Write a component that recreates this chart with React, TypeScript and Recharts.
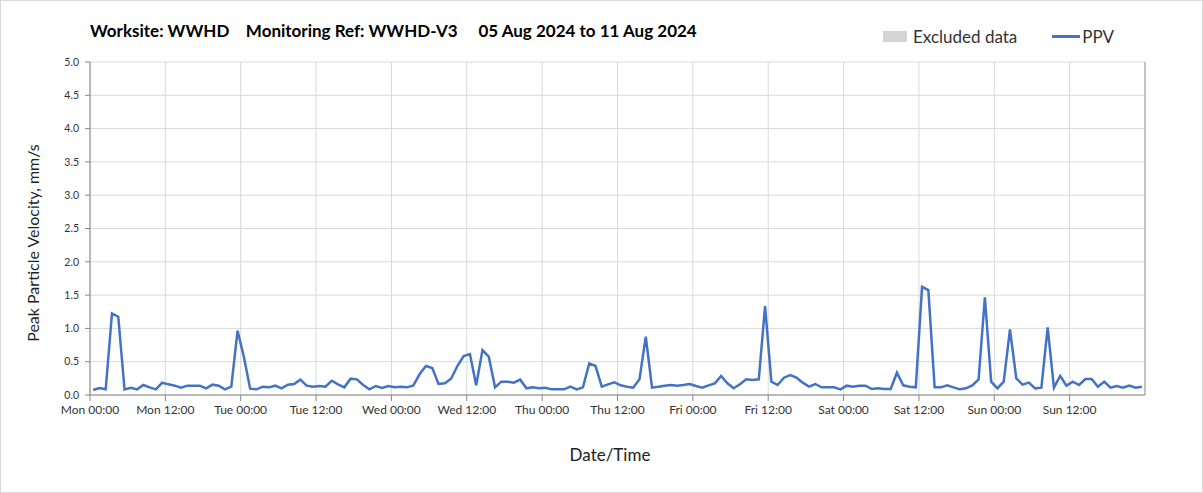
import { CartesianGrid, Line, LineChart, ReferenceLine, XAxis, YAxis } from 'recharts';

// hourly PPV readings, Mon 05 Aug 00:00 -> Sun 11 Aug 23:00
const ppv = [
  0.075, 0.105, 0.085, 1.225, 1.175, 0.085, 0.11, 0.085, 0.15, 0.115,
  0.085, 0.185, 0.16, 0.14, 0.11, 0.14, 0.14, 0.14, 0.1, 0.155,
  0.14, 0.085, 0.125, 0.965, 0.575, 0.095, 0.085, 0.125, 0.115, 0.14,
  0.1, 0.155, 0.165, 0.23, 0.14, 0.125, 0.135, 0.125, 0.215, 0.16,
  0.115, 0.245, 0.235, 0.15, 0.085, 0.135, 0.105, 0.135, 0.115, 0.125,
  0.115, 0.145, 0.315, 0.435, 0.405, 0.165,
  0.175, 0.245, 0.435, 0.585, 0.615, 0.145, 0.675, 0.575, 0.115, 0.2,
  0.2, 0.185, 0.23, 0.1, 0.115, 0.1, 0.11, 0.085, 0.085, 0.085,
  0.125, 0.085, 0.115, 0.475, 0.435, 0.125, 0.16, 0.19, 0.145, 0.125,
  0.11, 0.235, 0.875, 0.11, 0.125, 0.14, 0.15, 0.14, 0.15, 0.165,
  0.135, 0.11, 0.145, 0.175, 0.285, 0.175, 0.1, 0.16, 0.235, 0.225,
  0.235, 1.335, 0.2, 0.15, 0.26,
  0.3, 0.26, 0.185, 0.125, 0.165, 0.115, 0.115, 0.115, 0.085, 0.14,
  0.125, 0.14, 0.14, 0.09, 0.1, 0.09, 0.09, 0.335, 0.145, 0.125,
  0.115, 1.625, 1.575, 0.115, 0.115, 0.145, 0.115, 0.085, 0.1, 0.145,
  0.235, 1.465, 0.2, 0.1, 0.2, 0.985, 0.25, 0.155, 0.185, 0.1,
  0.11, 1.015, 0.11, 0.285, 0.14, 0.2, 0.15, 0.24, 0.24, 0.125,
  0.2, 0.11, 0.135, 0.11, 0.14, 0.11, 0.125,
];

const xTicks = [0, 12, 24, 36, 48, 60, 72, 84, 96, 108, 120, 132, 144, 156];
const xTickLabels = [
  'Mon 00:00', 'Mon 12:00', 'Tue 00:00', 'Tue 12:00', 'Wed 00:00', 'Wed 12:00', 'Thu 00:00',
  'Thu 12:00', 'Fri 00:00', 'Fri 12:00', 'Sat 00:00', 'Sat 12:00', 'Sun 00:00', 'Sun 12:00',
];
const yTicks = [0, 0.5, 1, 1.5, 2, 2.5, 3, 3.5, 4, 4.5, 5];

const data = ppv.map((v, i) => ({ t: i + 0.5, ppv: v }));

const font = 'Lato, "Noto Sans", sans-serif';

export default function App() {
  return (
    <div
      style={{
        position: 'absolute',
        left: 0,
        top: 0,
        width: 1203,
        height: 493,
        border: '1px solid #d9d9d9',
        boxSizing: 'border-box',
        background: '#fff',
        fontFamily: font,
        color: '#000',
      }}
    >
      <div style={{ position: 'absolute', left: 89, top: 19, fontSize: 17, fontWeight: 700, whiteSpace: 'pre' }}>
        {'Worksite: WWHD    Monitoring Ref: WWHD-V3     05 Aug 2024 to 11 Aug 2024'}
      </div>
      <div style={{ position: 'absolute', left: 882, top: 25, display: 'flex', alignItems: 'center', fontSize: 17, color: '#333' }}>
        <span style={{ display: 'inline-block', width: 24, height: 11, background: '#d4d4d4', marginRight: 6 }} />
        <span>Excluded data</span>
        <span style={{ display: 'inline-block', width: 28, height: 3, background: '#4472c4', marginLeft: 35, marginRight: 2 }} />
        <span>PPV</span>
      </div>
      <div
        style={{
          position: 'absolute',
          left: 31,
          top: 242,
          transform: 'translate(-50%, -50%) rotate(-90deg)',
          fontSize: 16,
          whiteSpace: 'nowrap',
          color: '#222',
        }}
      >
        Peak Particle Velocity, mm/s
      </div>
      <div style={{ position: 'absolute', left: 609, top: 453, transform: 'translate(-50%, -50%)', fontSize: 17, color: '#222' }}>
        Date/Time
      </div>
      <LineChart
        width={1201}
        height={491}
        data={data}
        margin={{ top: 61, right: 57, bottom: 67, left: -1 }}
        style={{ position: 'absolute', left: 0, top: 0 }}
      >
        <CartesianGrid stroke="#d9d9d9" strokeWidth={1} />
        <XAxis
          dataKey="t"
          type="number"
          domain={[0, 168]}
          ticks={xTicks}
          tickFormatter={(v: number) => xTickLabels[xTicks.indexOf(v)] ?? ''}
          tick={{ fontSize: 12, fill: '#333', fontFamily: font }}
          tickSize={6}
          tickMargin={4}
          stroke="#868686"
          height={30}
          interval={0}
        />
        <YAxis
          type="number"
          domain={[0, 5]}
          ticks={yTicks}
          tickFormatter={(v: number) => v.toFixed(1)}
          tick={{ fontSize: 10.5, fill: '#333', fontFamily: font }}
          tickSize={5}
          tickMargin={6}
          stroke="#868686"
          width={90}
        />
        <ReferenceLine x={168} stroke="#9a9a9a" />
        <Line
          type="linear"
          dataKey="ppv"
          stroke="#4472c4"
          strokeWidth={2.5}
          dot={false}
          isAnimationActive={false}
        />
      </LineChart>
    </div>
  );
}
